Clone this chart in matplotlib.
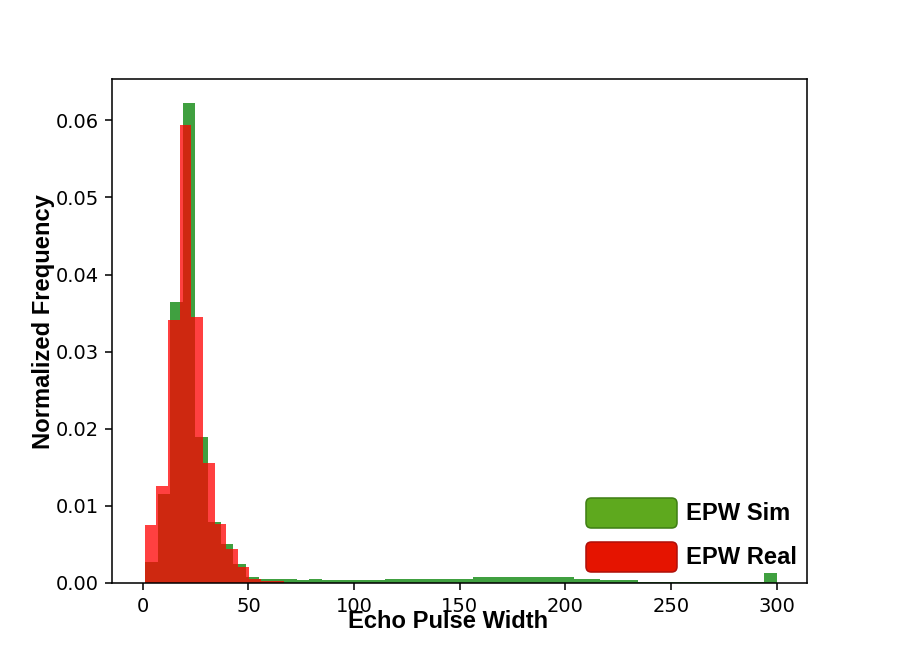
import numpy as np
import matplotlib
matplotlib.use("Agg")
import matplotlib.pyplot as plt
from matplotlib.patches import FancyBboxPatch

# simulated echo pulse width histogram (50 bins, width ~6)
sim_start, sim_width = 1.0, 5.98
sim_heights = [0.0027, 0.01155, 0.0364, 0.0623, 0.0189, 0.0079, 0.0050, 0.0024, 0.0008, 0.00056,
               0.00056, 0.00056, 0.00034, 0.00056, 0.00034, 0.00034, 0.00034, 0.00034, 0.00034, 0.00056,
               0.00056, 0.00056, 0.00056, 0.00056, 0.00056, 0.00056, 0.0008, 0.0008, 0.0008, 0.0008,
               0.0008, 0.0008, 0.0008, 0.0008, 0.00056, 0.00056, 0.00034, 0.00034, 0.00034, 0.0001,
               0.0001, 0.0001, 0.0001, 0.0001, 0.0001, 0.0001, 0.0001, 0.0001, 0.0001, 0.0013]

# real echo pulse width histogram (bins width ~5.5)
real_start, real_width = 1.0, 5.5
real_heights = [0.0075, 0.0126, 0.0341, 0.0594, 0.0345, 0.0156, 0.0076, 0.0044, 0.0021, 0.0005,
                0.0003, 0.0002]

legend_labels = ["EPW Sim", "EPW Real"]
xlabel = "Echo Pulse Width"
ylabel = "Normalized Frequency"

fig = plt.figure(figsize=(897 / 140, 655 / 140), dpi=140)
ax = fig.add_subplot(111)

sim_edges = sim_start + sim_width * np.arange(len(sim_heights) + 1)
real_edges = real_start + real_width * np.arange(len(real_heights) + 1)

ax.hist(sim_edges[:-1] + sim_width / 2, bins=sim_edges, weights=sim_heights,
        color="green", alpha=0.75)
ax.hist(real_edges[:-1] + real_width / 2, bins=real_edges, weights=real_heights,
        color="red", alpha=0.75)
ax.set_xlim(-14.5, 314.5)
ax.set_xticks([0, 50, 100, 150, 200, 250, 300])

lab_font = dict(family=["Liberation Sans", "DejaVu Sans"], fontweight="bold", fontsize=12.2)
fig.text(448 / 897, 1 - 621 / 655, xlabel, ha="center", va="center", **lab_font)
fig.text(44 / 897, 1 - 322 / 655, ylabel, ha="center", va="center", rotation=90, **lab_font)

# legend drawn as rounded boxes (figure pixel coordinates)
boxes = [(586, 498, "#5ea91e", "#3f7f14"), (586, 542, "#e51400", "#b0100a")]
for (bx, by, fc, ec), lab in zip(boxes, legend_labels):
    w, h = 91, 30
    p = FancyBboxPatch((bx / 897, 1 - (by + h) / 655), w / 897, h / 655,
                       boxstyle="round,pad=0,rounding_size=0.006",
                       transform=fig.transFigure, facecolor=fc, edgecolor=ec,
                       linewidth=0.8, mutation_aspect=897 / 655)
    fig.patches.append(p)
    fig.text(686 / 897, 1 - (by + h / 2) / 655, lab, ha="left", va="center", **lab_font)

fig.savefig("out.png", dpi=140)
